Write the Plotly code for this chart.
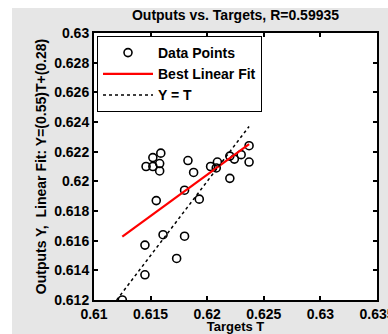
import plotly.graph_objects as go

# ---- data ----
targets = [0.6125, 0.6145, 0.6145, 0.6161, 0.6173, 0.6180, 0.6146, 0.6152, 0.6152,
           0.6159, 0.6158, 0.6158, 0.6155, 0.6180, 0.6183, 0.6188, 0.6193, 0.6203,
           0.6208, 0.6209, 0.6220, 0.6220, 0.6224, 0.6230, 0.6237, 0.6237]
outputs = [0.6120, 0.6137, 0.6157, 0.6164, 0.6148, 0.6163, 0.6210, 0.6216, 0.6210,
           0.6219, 0.6212, 0.6207, 0.6187, 0.6194, 0.6214, 0.6206, 0.6188, 0.6210,
           0.6209, 0.6213, 0.6202, 0.6217, 0.6215, 0.6218, 0.6224, 0.6213]
fit_slope = 0.5576
fit_intercept = 0.27474
r_value = "0.59935"

x_ticks = [0.61, 0.615, 0.62, 0.625, 0.63, 0.635]
x_ticklabels = ["0.61", "0.615", "0.62", "0.625", "0.63", "0.635"]
y_ticks = [0.612, 0.614, 0.616, 0.618, 0.62, 0.622, 0.624, 0.626, 0.628, 0.63]
y_ticklabels = ["0.612", "0.614", "0.616", "0.618", "0.62", "0.622", "0.624", "0.626", "0.628", "0.63"]

# ---- derived lines ----
t_min, t_max = min(targets), max(targets)
fit_x = [t_min, t_max]
fit_y = [fit_slope * t + fit_intercept for t in fit_x]
lo = min(min(targets), min(outputs))
hi = max(max(targets), max(outputs))
id_x = [lo, hi]

FONT = "Liberation Sans, Arial, sans-serif"
FS = 14

def fnt(size=FS):
    return dict(family=FONT, size=size, color="black", weight="bold")

fig = go.Figure()
fig.add_trace(go.Scatter(
    x=targets, y=outputs, mode="markers", name="Data Points",
    marker=dict(symbol="circle-open", size=8, color="black", line=dict(width=1.6, color="black")),
))
fig.add_trace(go.Scatter(
    x=fit_x, y=fit_y, mode="lines", name="Best Linear Fit",
    line=dict(color="#ff0000", width=2.2),
))
fig.add_trace(go.Scatter(
    x=id_x, y=id_x, mode="lines", name="Y = T",
    line=dict(color="black", width=1.5, dash="dot"),
))

W, H = 388, 334
ml, mr, mt, mb = 94, 11, 33, 34
pw, ph = W - ml - mr, H - mt - mb

def px_x(px):
    return (px - ml) / pw

def px_y(py):
    return (H - mb - py) / ph

axis_common = dict(
    showline=True, linecolor="black", linewidth=2, mirror="ticks",
    ticks="inside", ticklen=4, tickwidth=1.5, tickcolor="black",
    showgrid=False, zeroline=False, ticklabeloverflow="allow",
    tickfont=fnt(),
)

fig.update_layout(
    width=W, height=H,
    margin=dict(l=ml, r=mr, t=mt, b=mb, autoexpand=False),
    paper_bgcolor="#e6e6e6",
    plot_bgcolor="white",
    font=fnt(),
    title=dict(text=f"Outputs vs. Targets, R={r_value}", x=px_x(235.5), xref="paper",
               xanchor="center", y=1 - 15 / H, yanchor="middle",
               font=fnt()),
    xaxis=dict(range=[0.61, 0.635], tickvals=x_ticks, ticktext=x_ticklabels,
               title=dict(text="Targets T", standoff=7, font=fnt(13)),
               **axis_common),
    yaxis=dict(range=[0.612, 0.63], tickvals=y_ticks, ticktext=y_ticklabels,
               title=dict(text="Outputs Y,  Linear Fit: Y=(0.55)T+(0.28)", standoff=4,
                          font=fnt()),
               **axis_common),
    showlegend=True,
    legend=dict(x=px_x(97), y=px_y(36), xanchor="left", yanchor="top",
                bgcolor="white", bordercolor="black", borderwidth=1,
                itemwidth=50, font=fnt(),
                tracegroupgap=0),
    shapes=[
        dict(type="rect", xref="paper", yref="paper", layer="below",
             x0=px_x(-5), x1=px_x(12), y0=px_y(H + 5), y1=px_y(-5),
             fillcolor="white", line=dict(width=0)),
        dict(type="rect", xref="paper", yref="paper", layer="below",
             x0=px_x(-5), x1=px_x(W + 5), y0=px_y(8), y1=px_y(-5),
             fillcolor="white", line=dict(width=0)),
    ],
)

fig.write_html("out.html")
